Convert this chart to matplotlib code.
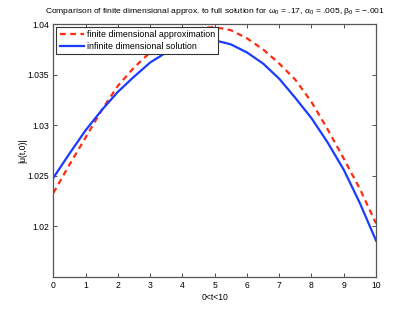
import matplotlib
matplotlib.use("Agg")
import matplotlib.pyplot as plt
from matplotlib.ticker import FixedLocator, FuncFormatter

plt.rcParams['font.family'] = ['Liberation Sans', 'DejaVu Sans']
plt.rcParams['mathtext.fontset'] = 'custom'
plt.rcParams['mathtext.rm'] = 'Liberation Sans'
plt.rcParams['mathtext.it'] = 'Liberation Sans'

t = [0.0, 0.5, 1.0, 1.5, 2.0, 2.5, 3.0, 3.5, 4.0, 4.5, 5.0,
     5.5, 6.0, 6.5, 7.0, 7.5, 8.0, 8.5, 9.0, 9.5, 10.0]
finite_approx = [1.0233, 1.0261, 1.0288, 1.0315, 1.0339, 1.0357, 1.0372, 1.0383,
                 1.0391, 1.0396, 1.0397, 1.0394, 1.0386, 1.0375, 1.0361, 1.0345,
                 1.0323, 1.0296, 1.0267, 1.0237, 1.0203]
infinite_sol = [1.0248, 1.0272, 1.0295, 1.0315, 1.0333, 1.0348, 1.0362, 1.0372,
                1.0379, 1.0383, 1.0384, 1.0380, 1.0372, 1.0361, 1.0346, 1.0327,
                1.0307, 1.0283, 1.0256, 1.0223, 1.0186]
xticks = [0, 1, 2, 3, 4, 5, 6, 7, 8, 9, 10]
yticks = [1.02, 1.025, 1.03, 1.035, 1.04]

fig = plt.figure(figsize=(4.15, 3.13), dpi=100)
ax = fig.add_axes([0.1285, 0.115, 0.7776, 0.808])

ax.plot(t, finite_approx, color='#ff2a10', lw=1.6, dashes=(2.6, 2.0),
        label='finite dimensional approximation')
ax.plot(t, infinite_sol, color='#1a3cff', lw=1.6,
        label='infinite dimensional solution')

ax.set_xlim(0, 10)
ax.set_ylim(1.015, 1.04)
ax.xaxis.set_major_locator(FixedLocator(xticks))
ax.yaxis.set_major_locator(FixedLocator(yticks))
ax.yaxis.set_major_formatter(FuncFormatter(lambda v, p: ('%g' % v)))
ax.xaxis.set_major_formatter(FuncFormatter(lambda v, p: ('%g' % v)))
ax.tick_params(direction='in', length=3, width=0.6, labelsize=6.2, top=True, right=True,
               colors='#333333', labelcolor='black', pad=3)
for s in ax.spines.values():
    s.set_linewidth(0.9)
    s.set_color('#555555')

ax.set_xlabel('0<t<10', fontsize=6.2, labelpad=2)
ax.set_ylabel('|u(t,0)|', fontsize=6.2, labelpad=0)
ax.set_title('Comparison of finite dimensional approx. to full solution for '
             r'$\omega_0$ = .17, $\alpha_0$ = .005, $\beta_0$ = ' + '\u2212.001',
             fontsize=6.1, pad=8)

leg = ax.legend(loc='upper left', fontsize=6.4, handlelength=2.7, handletextpad=0.4,
                borderaxespad=0.35, borderpad=0.35, labelspacing=0.3,
                fancybox=False, framealpha=1, edgecolor='#333333')
leg.get_frame().set_linewidth(0.8)

fig.savefig('out.png', dpi=100)
